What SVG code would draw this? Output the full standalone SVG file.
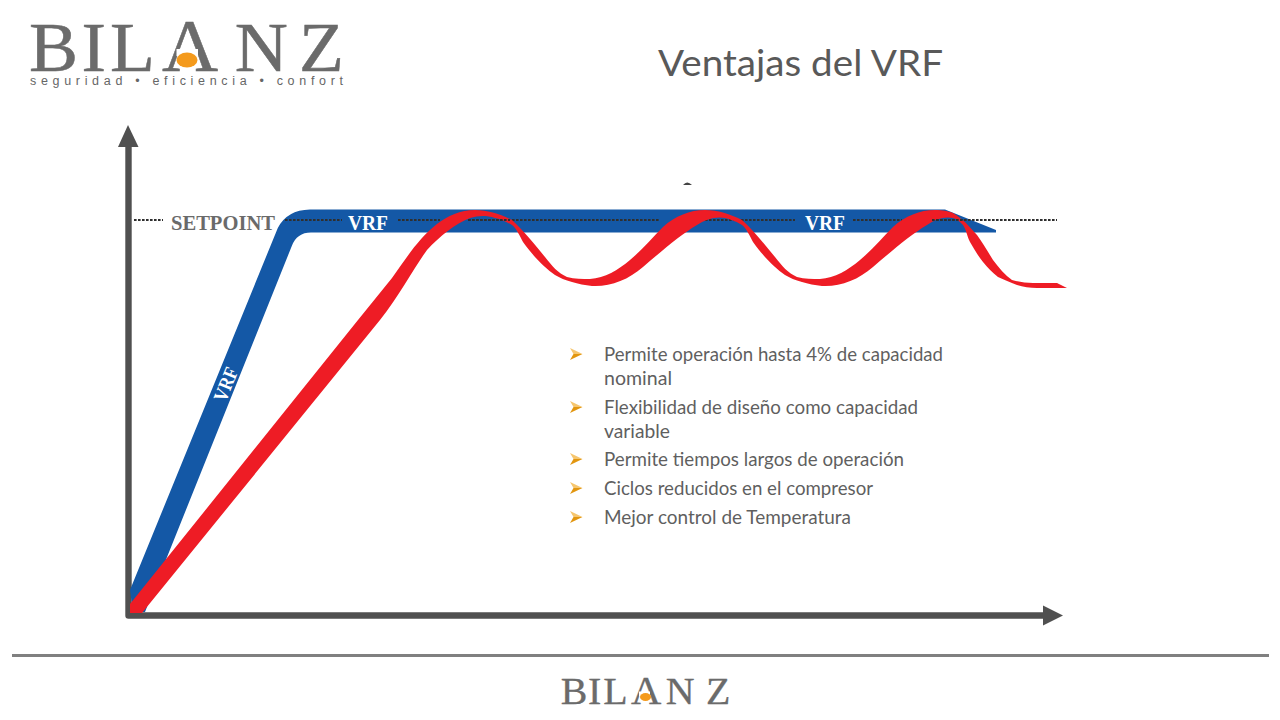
<svg xmlns="http://www.w3.org/2000/svg" width="1280" height="720" viewBox="0 0 1280 720">
<style>
.logo{font-family:"Liberation Serif","Times New Roman",serif;fill:#6b6b6b;stroke:#6b6b6b}
.body{font-family:Lato,"Open Sans",sans-serif;font-size:19px;fill:#5f5f5f}
.band{font-family:"Liberation Serif",serif;font-weight:700;font-size:22px;fill:#fff}
.dash{fill:none;stroke:#2f2f2f;stroke-width:2;stroke-dasharray:2.600 1.400}
.axis{fill:none;stroke:#505050;stroke-width:6.400;stroke-linejoin:round}
</style>
<defs>
<g id="bullet"><path d="M0 0L12.500 6L3.500 6Z" fill="#f6c66e"/><path d="M3.500 6L12.500 6L0 12Z" fill="#e2960f"/></g>
</defs>
<rect width="1280" height="720" fill="#fff"/>
<g id="logo-top">
<text class="logo" font-size="70" stroke-width="0.500" transform="scale(1.05 1)" y="71" x="27.600 77.600 104.800 154.300 223.500 284.800">BIL<tspan font-size="74">A</tspan>NZ</text>
<rect x="176.500" y="49" width="21.500" height="7" fill="#fff"/>
<ellipse cx="187" cy="60" rx="10.500" ry="7.500" fill="#f49a1c"/>
<text font-family="Liberation Sans,Arial,sans-serif" font-size="12.500" fill="#666" x="30" y="84.500" textLength="313" lengthAdjust="spacing">seguridad • eficiencia • confort</text>
</g>
<g id="title"><text x="658" y="76" font-family="Lato,'Open Sans',sans-serif" font-size="37" fill="#595959" textLength="285" lengthAdjust="spacingAndGlyphs">Ventajas del VRF</text></g>
<g id="axes">
<path class="axis" d="M128.500 140V615.500H1045"/>
<path d="M128 125L138.500 147H118Z" fill="#505050"/>
<path d="M1063 615.500L1043 605.500V625.500Z" fill="#505050"/>
</g>
<g id="curve-vrf">
<path d="M130 590L277.800 228Q287 210 310 209.500L945 209.500L996 230V232.500H312Q297 232 291.800 246L145 612H133Z" fill="#1458a6"/>
</g>
<g id="setpoint">
<path class="dash" d="M134 220H163M285 220H342M398 220H440M468 220H660M705 220H795M853 220H902M932 220H1057"/>
<text x="171" y="230" font-family="Liberation Serif,serif" font-weight="700" font-size="22" fill="#6a6a6a" textLength="104" lengthAdjust="spacingAndGlyphs">SETPOINT</text>
<text class="band" x="348" y="230" textLength="40" lengthAdjust="spacingAndGlyphs">VRF</text>
<text class="band" x="805" y="230" textLength="40" lengthAdjust="spacingAndGlyphs">VRF</text>
<text class="band" style="font-size:20px" transform="translate(225.500 403) rotate(-68)" textLength="35" lengthAdjust="spacingAndGlyphs">VRF</text>
</g>
<g id="curve-red">
<path fill="#ee1c25" d="M130 604L358 320L392 278C412 250 436 210 475 210C488 210 500 214 512 220C525 232 535 245 545 257C552 266 558 273 567 277C575 279 582 279 590 279C605 278 618 270 630 260C642 250 652 238 663 227C675 216 690 210 705 210C718 210 730 214 742 220C755 232 765 245 775 257C782 266 788 273 797 277C805 279 812 279 820 279C835 278 848 270 860 260C872 250 882 238 893 227C905 216 920 210 935 210C943 210 948 211 953 213C958 216 961 219 965 222L977 235C983 243 988 252 993 260C999 268 1005 275 1012 280C1018 282 1026 283 1033 283L1057 283L1067 288L1057 288L1037 288C1030 288 1023 287 1017 285C1010 282 1004 280 998 277C992 272 988 268 983 262C978 256 974 249 970 242C967 236 966 229 963 225C960 222 957 219 953 218C945 216 935 219 927 225C910 235 893 250 873 267C858 280 840 287 822 286C815 285 808 284 802 282C795 280 790 278 785 275C775 268 762 255 753 242C750 236 746 228 742 225C735 221 730 219 725 218C715 216 705 220 697 225C680 235 663 250 643 267C628 280 610 287 592 286C585 285 578 284 572 282C565 280 560 278 555 275C545 268 532 255 523 242C520 236 516 228 512 225C505 221 500 219 495 218C485 215 478 216 470 218C455 224 440 236 427 250C415 266 400 295 380 320L142 613H130Z"/>
<path class="dash" d="M468 220H510M932 220H965"/>
</g>
<g id="mark"><path d="M683 185Q687 180 692 185Z" fill="#444"/></g>
<g id="bullets">
<use href="#bullet" x="570" y="348"/><use href="#bullet" x="570" y="401"/><use href="#bullet" x="570" y="453"/><use href="#bullet" x="570" y="482"/><use href="#bullet" x="570" y="511"/>
<text class="body" x="604" y="361" textLength="339" lengthAdjust="spacingAndGlyphs">Permite operación hasta 4% de capacidad</text>
<text class="body" x="604" y="385" textLength="68" lengthAdjust="spacingAndGlyphs">nominal</text>
<text class="body" x="604" y="414" textLength="314" lengthAdjust="spacingAndGlyphs">Flexibilidad de diseño como capacidad</text>
<text class="body" x="604" y="438" textLength="66" lengthAdjust="spacingAndGlyphs">variable</text>
<text class="body" x="604" y="466" textLength="300" lengthAdjust="spacingAndGlyphs">Permite tiempos largos de operación</text>
<text class="body" x="604" y="495" textLength="269" lengthAdjust="spacingAndGlyphs">Ciclos reducidos en el compresor</text>
<text class="body" x="604" y="524" textLength="247" lengthAdjust="spacingAndGlyphs">Mejor control de Temperatura</text>
</g>
<g id="footer">
<path d="M12 655.500H1269" stroke="#808080" stroke-width="3" fill="none"/>
<text class="logo" font-size="38" stroke-width="0.300" transform="scale(1.05 1)" y="704" x="534 560 574.500 601 634 672.400">BIL<tspan font-size="40">A</tspan>NZ</text>
<rect x="639" y="691.500" width="11" height="5" fill="#fff"/>
<ellipse cx="645.500" cy="697" rx="5.500" ry="4" fill="#f49a1c"/>
</g>
</svg>
